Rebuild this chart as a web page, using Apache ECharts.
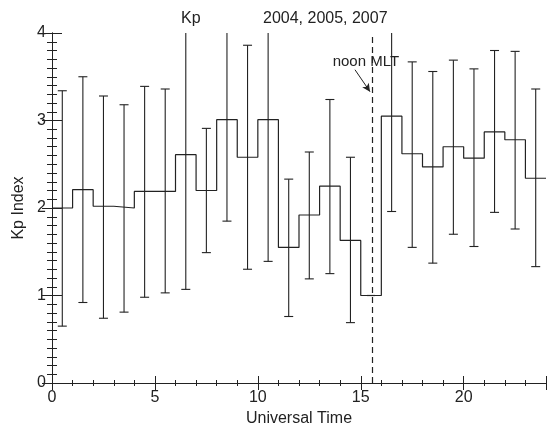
<!DOCTYPE html>
<html>
<head>
<meta charset="utf-8">
<script src="https://cdn.jsdelivr.net/npm/echarts@6/dist/echarts.min.js"></script>
<style>
  html, body { margin: 0; padding: 0; background: #fff; }
  #kp { width: 547px; height: 431px; }
</style>
</head>
<body>
<div id="kp"></div>
<script>
// hourly bins of universal time
const hourStart = [0, 1, 2, 3, 4, 5, 6, 7, 8, 9, 10, 11, 12, 13, 14, 15, 16, 17, 18, 19, 20, 21, 22, 23];
const kpMean = [2.00, 2.21, 2.02, 2.00, 2.19, 2.19, 2.61, 2.20, 3.01, 2.58, 3.01, 1.55,
                1.92, 2.25, 1.63, 1.00, 3.05, 2.62, 2.47, 2.70, 2.57, 2.87, 2.78, 2.34];
const kpLow = [0.65, 0.92, 0.74, 0.81, 0.98, 1.03, 1.07, 1.49, 1.85, 1.30, 1.39, 0.76,
               1.19, 1.25, 0.69, 1.00, 1.96, 1.55, 1.37, 1.70, 1.56, 1.95, 1.76, 1.33];
const kpHigh = [3.34, 3.50, 3.28, 3.18, 3.39, 3.36, 4.30, 2.91, 4.30, 3.86, 4.30, 2.33,
                2.64, 3.24, 2.58, 1.00, 4.20, 3.67, 3.56, 3.69, 3.59, 3.80, 3.79, 3.36];
const noonMLT = 15.58;
const arrowFrom = [14.72, 3.58];
const arrowTo = [15.45, 3.33];
const noonLabelAt = [15.25, 3.67];

const Y_MAX = 4;
const ink = "#222222";
const font = "Liberation Sans";

// step line points: each bin starts at its hour, last one closed at 24
const stepData = hourStart.map((h, i) => [h, kpMean[i]]);
stepData.push([24, kpMean[kpMean.length - 1]]);

const errData = hourStart.map((h, i) => [h + 0.5, kpLow[i], kpHigh[i]]);

const chart = echarts.init(document.getElementById("kp"));

function axisX(pos, showLabel) {
  return {
    type: "value",
    position: pos,
    min: 0,
    max: 24,
    interval: 5,
    splitLine: { show: false },
    axisLine: { show: true, lineStyle: { color: ink, width: 1 } },
    axisTick: { show: true, inside: true, length: 7, lineStyle: { color: ink } },
    minorTick: { show: true, splitNumber: 5, length: 3, lineStyle: { color: ink } },
    axisLabel: { show: showLabel, showMaxLabel: false, color: ink, fontSize: 16, fontFamily: font, margin: 7 },
    name: showLabel ? "Universal Time" : "",
    nameLocation: "middle",
    nameGap: 28,
    nameTextStyle: { color: ink, fontSize: 16, fontFamily: font },
  };
}

function axisY(pos, showLabel) {
  return {
    type: "value",
    position: pos,
    min: 0,
    max: Y_MAX,
    interval: 1,
    splitLine: { show: false },
    axisLine: { show: true, lineStyle: { color: ink, width: 1 } },
    axisTick: { show: true, inside: true, length: 10, lineStyle: { color: ink } },
    minorTick: { show: true, splitNumber: 10, length: 5, lineStyle: { color: ink } },
    axisLabel: { show: showLabel, color: ink, fontSize: 16, fontFamily: font, margin: 6 },
    name: showLabel ? "Kp Index" : "",
    nameLocation: "middle",
    nameGap: 25,
    nameTextStyle: { color: ink, fontSize: 16, fontFamily: font },
  };
}

chart.setOption({
  animation: false,
  backgroundColor: "#ffffff",
  title: [
    { text: "Kp", left: 176, top: 6, textStyle: { color: ink, fontSize: 16, fontWeight: "normal", fontFamily: font } },
    { text: "2004, 2005, 2007", left: 258, top: 6, textStyle: { color: ink, fontSize: 16, fontWeight: "normal", fontFamily: font } },
  ],
  grid: { left: 52, right: 1, top: 33, bottom: 48, outerBoundsMode: "none", containLabel: false },
  xAxis: [axisX("bottom", true), axisX("top", false)],
  yAxis: [axisY("left", true), axisY("right", false)],
  series: [
    {
      type: "line",
      step: "end",
      data: stepData,
      symbol: "none",
      lineStyle: { color: ink, width: 1.2 },
      z: 3,
      markLine: {
        silent: true,
        symbol: ["none", "none"],
        label: { show: false },
        lineStyle: { color: ink, width: 1, type: "solid" },
        data: [
          { xAxis: noonMLT, lineStyle: { type: [6, 4], color: ink, width: 1.2 } },
          [
            { coord: arrowFrom, symbol: "none" },
            { coord: arrowTo, symbol: "arrow", symbolSize: [6, 8] },
          ],
        ],
      },
      markPoint: {
        silent: true,
        symbol: "circle",
        symbolSize: 1,
        itemStyle: { color: "rgba(0,0,0,0)" },
        label: { show: true, position: "inside", formatter: "noon MLT", color: ink, fontSize: 15, fontFamily: font },
        data: [{ coord: noonLabelAt }],
      },
    },
    {
      type: "custom",
      data: errData,
      z: 2,
      renderItem(params, api) {
        const x = api.value(0);
        const lo = api.value(1);
        const hi = api.value(2);
        const pLo = api.coord([x, lo]);
        const pHi = api.coord([x, Math.min(hi, Y_MAX)]);
        const cap = 4.5;
        const style = { stroke: ink, lineWidth: 1.1 };
        const children = [
          { type: "line", shape: { x1: pLo[0], y1: pLo[1], x2: pHi[0], y2: pHi[1] }, style },
          { type: "line", shape: { x1: pLo[0] - cap, y1: pLo[1], x2: pLo[0] + cap, y2: pLo[1] }, style },
        ];
        if (hi <= Y_MAX) {
          children.push({ type: "line", shape: { x1: pHi[0] - cap, y1: pHi[1], x2: pHi[0] + cap, y2: pHi[1] }, style });
        }
        return { type: "group", children };
      },
    },
  ],
});
</script>
</body>
</html>
